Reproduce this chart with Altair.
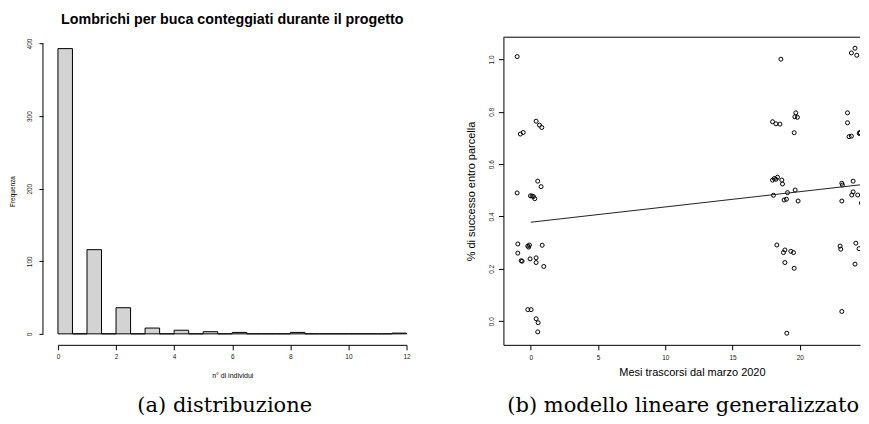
import altair as alt
import pandas as pd

# ---------------- data ----------------
# histogram: number of earthworms per hole -> frequency
worm_values = [0, 1, 2, 3, 4, 5, 6, 7, 8, 9, 10, 11, 12]
worm_freq = [393, 116, 36, 8, 5, 3, 2, 0, 2, 0, 0, 0, 1]

# scatter: months since March 2020 (jittered) vs success share
months = [
    -1.01, 0.40, 0.65, 0.82, -0.77, -0.56, 0.52, 0.77, -1.01, -0.02,
    0.10, 0.20, 0.30, -0.96, -0.22, -0.10, -0.15, 0.85, -0.96, -0.71,
    -0.64, -0.05, 0.40, 0.40, 0.97, -0.22, 0.03, 0.40, 0.55, 0.52,
    18.59, 19.70, 19.63, 19.82, 17.97, 18.22, 18.52, 19.58, 17.97, 18.22,
    18.34, 18.66, 18.71, 18.10, 19.65, 18.04, 19.08, 18.83, 19.00, 19.87,
    18.29, 18.78, 18.89, 19.33, 19.53, 18.89, 19.58, 19.03,
    24.10, 23.83, 24.23, 23.54, 23.54, 23.66, 23.83, 24.42, 24.45, 24.48,
    23.12, 23.16, 23.96, 24.72, 23.12, 23.86, 23.96, 24.30, 24.57, 24.90,
    22.99, 23.04, 24.16, 24.40, 24.65, 24.90, 24.90, 24.10, 23.12, 24.90,
]
success = [
    1.011, 0.764, 0.749, 0.740, 0.715, 0.721, 0.535, 0.514, 0.490, 0.479,
    0.478, 0.476, 0.468, 0.295, 0.287, 0.291, 0.283, 0.290, 0.260, 0.231,
    0.229, 0.238, 0.242, 0.224, 0.209, 0.044, 0.044, 0.009, -0.006, -0.041,
    1.001, 0.796, 0.781, 0.779, 0.762, 0.754, 0.753, 0.720, 0.539, 0.542,
    0.550, 0.539, 0.524, 0.545, 0.501, 0.481, 0.491, 0.463, 0.466, 0.459,
    0.291, 0.262, 0.272, 0.267, 0.262, 0.224, 0.202, -0.046,
    1.043, 1.025, 1.016, 0.796, 0.758, 0.705, 0.707, 0.717, 0.721, 0.719,
    0.527, 0.520, 0.535, 0.524, 0.459, 0.482, 0.494, 0.482, 0.451, 0.462,
    0.287, 0.275, 0.298, 0.277, 0.257, 0.249, 0.228, 0.218, 0.037, 0.033,
]

# fitted model line
fit_x = [0, 25]
fit_y = [0.378, 0.524]

hist_title = ["Lombrichi per buca conteggiati durante il progetto"]
caption_a = ["(a) distribuzione"]
caption_b = ["(b) modello lineare generalizzato"]

# ---------------- tables ----------------
rows = []
for v, c in zip(worm_values, worm_freq):
    if v < 12:
        rows.append({"start": v, "end": v + 0.5, "count": c, "base": 0})
        if v + 0.5 < 11.5:
            rows.append({"start": v + 0.5, "end": v + 1, "count": 0, "base": 0})
    else:
        rows.append({"start": v - 0.5, "end": v, "count": c, "base": 0})
hist_df = pd.DataFrame(rows)
scatter_df = pd.DataFrame({"mesi": months, "successo": success})
fit_df = pd.DataFrame({"mesi": fit_x, "successo": fit_y})
one = pd.DataFrame({"lo": [0], "hi": [400]})

FONT = "Liberation Sans"
SERIF = "DejaVu Serif"

# ---------------- left panel: histogram ----------------
LW, LH = 349, 297
xs_l = alt.Scale(domain=[0, 12], nice=False, zero=False)
ys_l = alt.Scale(domain=[0, 408.7], nice=False)

y_axis_l = alt.Axis(
    values=[0, 100, 200, 300, 400], offset=15, domain=False, tickSize=4,
    tickColor="black", labelAngle=270, labelAlign="center",
    labelBaseline="bottom", labelPadding=6, labelFontSize=6.5,
    labelFont=FONT, labelColor="#222", labelOverlap=False, grid=False,
    title="Frequenza", titleFont=FONT, titleFontSize=6.5,
    titleFontWeight="normal", titleAngle=270, titleX=-30, titleY=154,
    titleAlign="center", titleBaseline="middle")

bars = alt.Chart(hist_df).mark_rect(
    fill="#d3d3d3", stroke="black", strokeWidth=1
).encode(
    x=alt.X("start:Q", scale=xs_l, axis=alt.Axis(
        values=[0, 2, 4, 6, 8, 10, 12], offset=11, tickSize=5, labelPadding=4,
        labelFontSize=6.5, labelFont=FONT, labelColor="#222", labelFlush=False,
        labelOverlap=False, domainColor="black", tickColor="black", grid=False,
        title="n° di individui", titleFont=FONT, titleFontSize=7,
        titleFontWeight="normal", titleY=31, titleBaseline="middle")),
    x2="end:Q",
    y=alt.Y("count:Q", scale=ys_l, axis=y_axis_l),
    y2="base:Q",
)

yline = alt.Chart(one).mark_rule(color="black", strokeWidth=1).encode(
    x=alt.value(-15),
    y=alt.Y("lo:Q", scale=ys_l, axis=y_axis_l),
    y2="hi:Q",
)

htitle = alt.Chart(pd.DataFrame({"t": hist_title})).mark_text(
    font=FONT, fontSize=14.3, fontWeight="bold", color="black",
    align="center", baseline="middle"
).encode(x=alt.value(174.5), y=alt.value(-17), text="t:N")

cap_a = alt.Chart(pd.DataFrame({"t": caption_a})).mark_text(
    font=SERIF, fontSize=21, color="black", align="center", baseline="middle"
).encode(x=alt.value(167), y=alt.value(369), text="t:N")

left = alt.layer(bars, yline, htitle, cap_a).properties(width=LW, height=LH)

# ---------------- right panel: scatter + fit ----------------
# the plot box continues past the right edge of the page, as in the original
RW, RH = 357, 308
xs_r = alt.Scale(domain=[-2.03, 24.47], nice=False, zero=False)
ys_r = alt.Scale(domain=[-0.0905, 1.085], nice=False, zero=False)

x_axis_r = alt.Axis(
    values=[0, 5, 10, 15, 20], tickSize=5, labelPadding=5,
    labelFontSize=6.5, labelFont=FONT, labelColor="#222", labelOverlap=False,
    labelFlush=False, domainColor="black", tickColor="black", grid=False,
    title="Mesi trascorsi dal marzo 2020", titleFont=FONT, titleFontSize=11,
    titleFontWeight="normal", titleX=188.7, titleY=28, titleBaseline="middle")
y_axis_r = alt.Axis(
    values=[0.0, 0.2, 0.4, 0.6, 0.8, 1.0], format=".1f", tickSize=5,
    labelAngle=270, labelAlign="center", labelBaseline="bottom",
    labelPadding=4, labelFontSize=6.5, labelFont=FONT, labelColor="#222",
    labelOverlap=False, domainColor="black", tickColor="black", grid=False,
    title="% di successo entro parcella", titleFont=FONT, titleFontSize=11,
    titleFontWeight="normal", titleAngle=270, titleX=-32, titleY=154,
    titleAlign="center", titleBaseline="middle")

pts = alt.Chart(scatter_df).mark_point(
    shape="circle", filled=False, size=16, color="black", strokeWidth=1,
    opacity=1, clip=True
).encode(
    x=alt.X("mesi:Q", scale=xs_r, axis=x_axis_r),
    y=alt.Y("successo:Q", scale=ys_r, axis=y_axis_r),
)

fit = alt.Chart(fit_df).mark_line(color="#222", strokeWidth=1, clip=True).encode(
    x=alt.X("mesi:Q", scale=xs_r, axis=x_axis_r),
    y=alt.Y("successo:Q", scale=ys_r, axis=y_axis_r),
)

top_rule = alt.Chart(one).mark_rule(color="black", strokeWidth=1).encode(
    x=alt.value(0), x2=alt.value(RW), y=alt.value(0)
)

cap_b = alt.Chart(pd.DataFrame({"t": caption_b})).mark_text(
    font=SERIF, fontSize=21, color="black", align="center", baseline="middle"
).encode(x=alt.value(180), y=alt.value(369), text="t:N")

right = alt.layer(pts, fit, top_rule, cap_b).properties(width=RW, height=RH)

chart = alt.hconcat(left, right, spacing=97, bounds="flush").properties(
    padding={"left": 2, "top": 5, "right": 0, "bottom": 0},
    background="white",
).configure_view(stroke=None)

chart.save("out.html", embed_options={"renderer": "svg", "actions": False})
